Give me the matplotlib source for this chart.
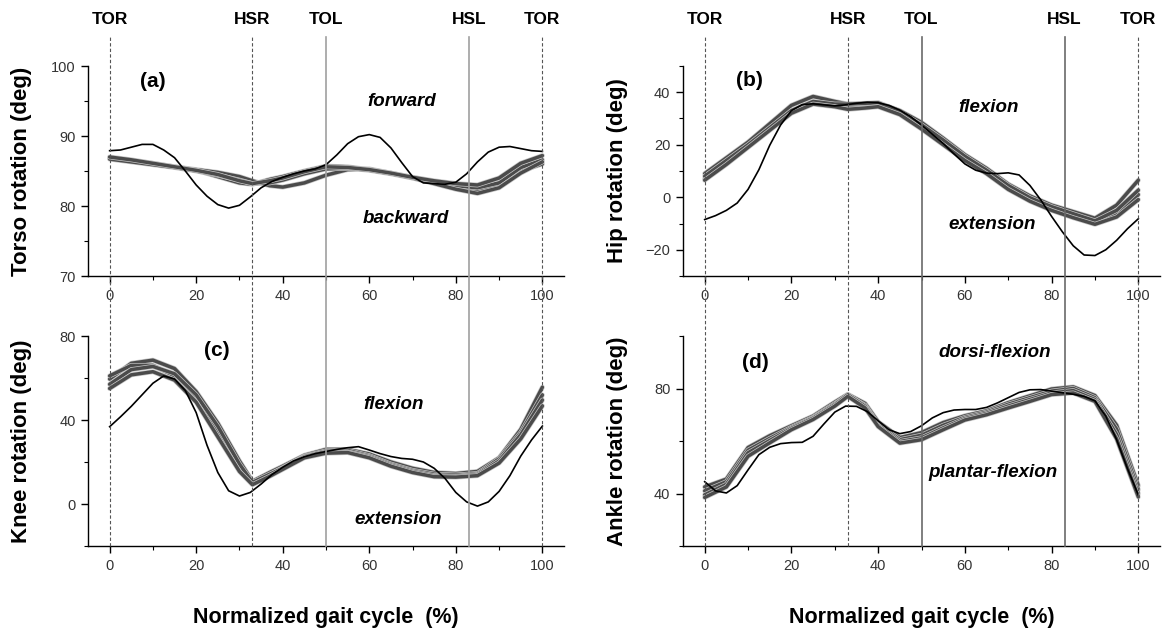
import matplotlib
matplotlib.use('Agg')
import matplotlib.pyplot as plt
import matplotlib.patheffects as pe
import numpy as np
from matplotlib.lines import Line2D
from matplotlib.ticker import MultipleLocator
from matplotlib.transforms import blended_transform_factory

plt.rcParams['font.family'] = ['Liberation Sans', 'DejaVu Sans']

# gait cycle sample points (%)
gait_fine = np.arange(0, 100.1, 2.5)
gait_gray = [0, 5, 10, 15, 20, 25, 30, 33, 37, 40, 45, 50, 55, 60, 65, 70, 75, 80, 85, 90, 95, 100]

events = ['TOR', 'HSR', 'TOL', 'HSL', 'TOR']
event_pos = [0, 33, 50, 83, 100]

# (a) torso
torso_black = [87.9, 88.0, 88.4, 88.8, 88.8, 88.0, 86.9, 85.0, 83.0, 81.4, 80.2, 79.7, 80.1, 81.3,
               82.6, 83.5, 84.1, 84.6, 85.0, 85.3, 85.9, 87.3, 88.9, 89.9, 90.2, 89.8, 88.3, 86.2,
               84.2, 83.3, 83.2, 83.1, 83.4, 84.6, 86.3, 87.7, 88.4, 88.5, 88.2, 87.9, 87.8]
torso_gray = [
    [86.9, 86.5, 86.1, 85.6, 85.2, 84.8, 84.2, 83.6, 82.9, 82.7, 83.3, 84.4, 85.2, 85.3, 84.7, 84.0, 83.4, 82.8, 82.2, 83.0, 85.0, 86.0],
    [86.8, 86.4, 86.0, 85.6, 85.1, 84.2, 83.3, 83.1, 83.8, 84.2, 85.0, 85.7, 85.6, 85.2, 84.7, 84.1, 83.5, 82.9, 82.6, 83.3, 85.5, 86.6],
    [86.7, 86.3, 85.9, 85.5, 85.0, 84.4, 83.7, 83.2, 83.3, 83.7, 84.6, 85.3, 85.4, 85.1, 84.6, 84.0, 83.2, 82.4, 81.8, 82.6, 84.7, 86.3],
    [87.0, 86.6, 86.1, 85.6, 85.1, 84.5, 83.6, 83.2, 83.6, 84.0, 84.9, 85.6, 85.5, 85.2, 84.7, 84.1, 83.6, 83.2, 83.0, 84.0, 86.1, 87.2],
]

# (b) hip
hip_black = [-8.5, -7.0, -5.0, -2.2, 3.0, 10.5, 19.8, 27.5, 33.0, 35.3, 35.6, 35.2, 34.8, 35.2,
             35.8, 36.2, 36.0, 35.0, 33.2, 30.7, 27.5, 24.0, 20.5, 16.5, 12.7, 10.3, 9.2, 9.0,
             9.3, 8.5, 4.5, -1.0, -7.3, -13.2, -18.5, -22.0, -22.2, -20.0, -16.4, -12.0, -8.2]
hip_gray = [
    [9.0, 15.0, 21.0, 28.0, 35.0, 38.4, 36.5, 35.5, 35.5, 36.0, 33.0, 28.5, 22.5, 16.2, 11.0, 5.0, 0.5, -3.0, -5.5, -8.0, -3.0, 6.5],
    [7.0, 13.0, 19.5, 26.0, 32.5, 36.0, 35.0, 34.0, 34.5, 35.0, 32.0, 27.2, 21.3, 15.3, 10.0, 4.0, -0.5, -4.0, -6.8, -9.8, -6.0, 1.0],
    [8.0, 14.0, 20.0, 26.5, 33.0, 36.5, 35.5, 35.5, 35.8, 36.0, 32.5, 27.6, 21.8, 15.6, 10.3, 4.5, -0.2, -3.6, -6.3, -9.0, -5.0, 2.7],
    [6.5, 12.5, 19.0, 25.5, 32.0, 35.5, 34.5, 33.5, 34.0, 34.5, 31.5, 26.0, 20.0, 14.0, 9.0, 3.0, -1.5, -5.0, -7.8, -10.3, -7.5, -0.9],
]

# (c) knee
knee_black = [36.8, 41.5, 46.5, 52.0, 57.5, 61.0, 59.5, 54.0, 43.5, 28.0, 15.0, 6.3, 3.8, 5.5,
              9.5, 14.0, 17.5, 20.5, 22.5, 24.0, 25.0, 26.0, 26.8, 27.3, 25.7, 24.0, 22.6, 21.7,
              21.3, 20.0, 17.0, 12.2, 5.5, 1.0, -1.0, 1.0, 6.0, 13.5, 22.8, 30.5, 37.1]
knee_gray = [
    [59.5, 67.0, 68.5, 64.5, 53.5, 38.5, 20.5, 10.8, 15.0, 18.0, 23.2, 26.0, 26.0, 23.8, 20.0, 17.0, 15.0, 14.5, 15.5, 22.0, 35.5, 55.6],
    [61.0, 66.0, 66.0, 61.0, 50.5, 35.0, 18.0, 10.0, 14.0, 17.3, 22.8, 25.3, 25.5, 23.0, 19.0, 16.0, 14.2, 13.8, 14.5, 21.5, 34.0, 51.9],
    [57.0, 64.0, 65.5, 62.0, 52.0, 37.0, 19.0, 10.3, 14.2, 17.0, 22.5, 24.8, 24.8, 22.5, 18.5, 15.5, 13.5, 13.2, 14.0, 20.5, 33.0, 49.5],
    [55.0, 61.5, 63.0, 59.0, 48.5, 32.0, 15.5, 9.2, 13.2, 16.5, 22.0, 24.2, 24.5, 22.0, 18.0, 15.0, 13.0, 12.8, 13.5, 19.5, 31.0, 46.7],
]

# (d) ankle
ankle_black = [44.5, 41.0, 40.2, 43.0, 49.0, 54.8, 57.6, 59.0, 59.4, 59.5, 61.8, 66.5, 71.0, 73.3,
               73.2, 71.2, 67.7, 64.3, 62.8, 63.6, 65.8, 68.8, 70.8, 71.8, 72.0, 72.0, 72.8, 74.5,
               76.5, 78.5, 79.5, 79.6, 79.0, 78.4, 77.8, 77.0, 75.3, 69.5, 60.5, 49.5, 39.4]
ankle_gray = [
    [42.5, 45.5, 57.5, 62.0, 65.8, 69.5, 74.8, 77.8, 74.3, 67.3, 61.3, 63.2, 67.0, 69.6, 71.5, 74.6, 77.2, 79.8, 80.6, 77.3, 66.0, 43.0],
    [41.0, 44.5, 56.5, 61.0, 65.2, 69.0, 74.2, 77.4, 73.6, 66.5, 60.5, 62.2, 66.0, 69.0, 71.0, 74.0, 76.5, 79.0, 80.0, 76.5, 64.5, 41.5],
    [39.5, 43.5, 55.5, 60.2, 64.8, 68.7, 73.8, 77.6, 73.2, 66.0, 59.8, 61.2, 65.0, 68.5, 70.5, 73.3, 75.8, 78.3, 79.2, 75.8, 62.5, 40.0],
    [38.5, 42.5, 54.2, 59.3, 64.3, 68.2, 73.3, 77.0, 72.6, 65.5, 59.2, 60.5, 64.3, 68.0, 70.0, 72.6, 75.1, 77.7, 78.3, 75.1, 60.8, 38.7],
]

W, H = 1168, 633
fig = plt.figure(figsize=(W / 100, H / 100), dpi=100)


def box(x0, x1, ytop, ybot):
    return [x0 / W, 1 - ybot / H, (x1 - x0) / W, (ybot - ytop) / H]


ax_a = fig.add_axes(box(88, 564, 66, 276))
ax_b = fig.add_axes(box(683, 1160, 66, 276))
ax_c = fig.add_axes(box(88, 564, 336, 546))
ax_d = fig.add_axes(box(683, 1160, 336, 546))

panels = [
    (ax_a, torso_black, torso_gray, (70, 100), 10, 5, 'Torso rotation (deg)', '(a)', (10, 97.8),
     ('forward', 67.4, 94.9), ('backward', 68.4, 78.2)),
    (ax_b, hip_black, hip_gray, (-30, 50), 20, 10, 'Hip rotation (deg)', '(b)', (10.4, 44.3),
     ('flexion', 65.5, 34.1), ('extension', 66.4, -10.3)),
    (ax_c, knee_black, knee_gray, (-20, 80), 40, 20, 'Knee rotation (deg)', '(c)', (24.8, 73.3),
     ('flexion', 65.7, 47.6), ('extension', 66.6, -7.6)),
    (ax_d, ankle_black, ankle_gray, (20, 100), 40, 20, 'Ankle rotation (deg)', '(d)', (11.8, 89.8),
     ('dorsi-flexion', 66.9, 93.7), ('plantar-flexion', 66.4, 48.1)),
]

for ax, black, grays, ylim, major, minor, ylabel, tag, tag_xy, up, down in panels:
    for g in grays:
        ax.plot(gait_gray, g, color='#4b4b4b', lw=2.5, solid_capstyle='round', zorder=3,
                path_effects=[pe.withStroke(linewidth=3.5, foreground='#c8c8c8')])
    ax.plot(gait_fine, black, color='black', lw=1.2, zorder=4)

    ax.set_xlim(-5, 105)
    ax.set_ylim(*ylim)
    ax.xaxis.set_major_locator(MultipleLocator(20))
    ax.xaxis.set_minor_locator(MultipleLocator(10))
    ax.yaxis.set_major_locator(MultipleLocator(major))
    ax.yaxis.set_minor_locator(MultipleLocator(minor))
    for s in ['top', 'right']:
        ax.spines[s].set_visible(False)
    for s in ['left', 'bottom']:
        ax.spines[s].set_linewidth(1.0)
    ax.tick_params(which='major', direction='out', length=5, width=1, labelsize=10.5,
                   labelcolor='#333333', pad=4)
    ax.tick_params(which='minor', direction='out', length=3, width=0.8)
    ax.patch.set_alpha(0)

    ax.text(*tag_xy, tag, fontsize=15, fontweight='bold', ha='center', va='center')
    ax.text(up[1], up[2], up[0], fontsize=13.5, fontweight='bold', style='italic',
            ha='center', va='center')
    ax.text(down[1], down[2], down[0], fontsize=13.5, fontweight='bold', style='italic',
            ha='center', va='center')

    pos = ax.get_position()
    fig.text(pos.x0 - 66 / W, pos.y0 + pos.height / 2, ylabel, rotation=90, fontsize=16,
             fontweight='bold', ha='center', va='center')

# gait events drawn across both rows of each column
for ax_top, light in [(ax_a, '#a0a0a0'), (ax_b, '#6a6a6a')]:
    trans = blended_transform_factory(ax_top.transData, fig.transFigure)
    for name, x in zip(events, event_pos):
        if name in ('TOR', 'HSR'):
            ln = Line2D([x, x], [1 - 546 / H, 1 - 37 / H], transform=trans, color='#555555',
                        lw=0.8, ls=(0, (3, 2)), zorder=1)
        else:
            ln = Line2D([x, x], [1 - 546 / H, 1 - 37 / H], transform=trans, color=light,
                        lw=1.2, zorder=1)
        fig.add_artist(ln)
        fig.text(x, 1 - 20 / H, name, transform=trans, fontsize=12.5, fontweight='bold',
                 ha='center', va='center')

for ax in (ax_c, ax_d):
    pos = ax.get_position()
    fig.text(pos.x0 + pos.width / 2, 1 - 617 / H, 'Normalized gait cycle  (%)', fontsize=15.5,
             fontweight='bold', ha='center', va='center')

fig.savefig('out.png', dpi=100)
